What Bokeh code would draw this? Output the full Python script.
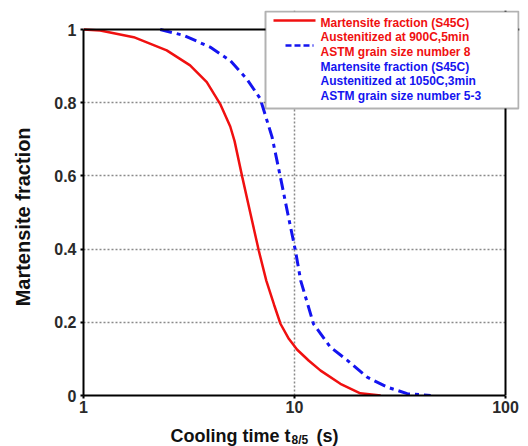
from bokeh.plotting import figure
from bokeh.models import (FixedTicker, NumeralTickFormatter, BoxAnnotation, Label, Arrow, Span)
from bokeh.embed import file_html
from bokeh.resources import INLINE

# --- data ---
red_t = [1.0, 1.2, 1.73, 2.48, 3.2, 3.84, 4.44, 4.96, 5.2, 5.65, 6.19, 6.77, 7.35, 8.0, 8.58, 9.4, 10.3, 11.7, 13.3, 16.5, 20.5, 25.6]
red_f = [1.0, 0.997, 0.979, 0.943, 0.902, 0.856, 0.797, 0.735, 0.695, 0.598, 0.496, 0.396, 0.314, 0.248, 0.196, 0.155, 0.125, 0.095, 0.068, 0.032, 0.006, 0.0]

blue_t = [2.31, 2.98, 3.98, 4.96, 5.94, 6.88, 7.83, 8.58, 9.3, 10.1, 10.7, 12.3, 14.8, 17.8, 22.1, 27.5, 34.2, 44.2]
blue_f = [1.0, 0.984, 0.952, 0.915, 0.865, 0.811, 0.706, 0.596, 0.496, 0.396, 0.314, 0.196, 0.132, 0.096, 0.05, 0.023, 0.005, 0.0]

x_ticks = [1, 10, 100]
y_ticks = [0, 0.2, 0.4, 0.6, 0.8, 1.0]
x_grid = [10]
y_grid = [0.2, 0.4, 0.6, 0.8]

red_label = ["Martensite fraction (S45C)", "Austenitized at 900C,5min", "ASTM grain size number 8"]
blue_label = ["Martensite fraction (S45C)", "Austenitized at 1050C,3min", "ASTM grain size number 5-3"]
x_title = ["Cooling time t", "8/5", "(s)"]
y_title = "Martensite fraction"

FONT = "Liberation Sans"
RED = "#f01010"
BLUE = "#1414f0"
INK = "#111111"

# geometry in pixels: plot box and the (larger) drawing frame
BL, BR, BT, BB = 83, 505, 29, 395      # box of the axes
FR_R, FR_T = 519, 10                   # frame extends to the right / top for the legend
W, H = 528, 446
DEC = (BR - BL) / 2.0


def px_x(px):
    return 10 ** ((px - BL) / DEC)


def px_y(py):
    return (BB - py) / (BB - BT)


p = figure(width=W, height=H, x_axis_type="log",
           x_range=(1, px_x(FR_R)), y_range=(0, px_y(FR_T)),
           output_backend="svg", toolbar_location=None,
           min_border_left=BL, min_border_right=W - FR_R, min_border_top=FR_T, min_border_bottom=H - BB,
           frame_width=FR_R - BL, frame_height=BB - FR_T)
p.background_fill_color = "white"
p.border_fill_color = "white"
p.outline_line_color = None

p.xaxis.ticker = FixedTicker(ticks=x_ticks)
p.yaxis.ticker = FixedTicker(ticks=y_ticks)
p.xaxis.formatter = NumeralTickFormatter(format="0")
p.yaxis.formatter = NumeralTickFormatter(format="0.[0]")
p.xaxis.bounds = (1, 100)
p.yaxis.bounds = (0, 1)
for ax in (p.xaxis, p.yaxis):
    ax.axis_line_color = "black"
    ax.axis_line_width = 2
    ax.major_tick_in = 0
    ax.major_tick_out = 3
    ax.major_tick_line_color = "black"
    ax.major_tick_line_width = 2
    ax.minor_tick_line_color = None
    ax.major_label_text_font = FONT
    ax.major_label_text_font_style = "bold"
    ax.major_label_text_font_size = "16px"
    ax.major_label_text_color = "#2a2a2a"
p.xaxis.major_label_standoff = 2
p.yaxis.major_label_standoff = 4

# trailing no-break spaces move the rotated title down to the centre of the axes box
p.yaxis.axis_label = y_title + "\u00a0" * 5
p.yaxis.axis_label_text_font = FONT
p.yaxis.axis_label_text_font_style = "bold"
p.yaxis.axis_label_text_font_size = "20px"
p.yaxis.axis_label_text_color = INK
p.yaxis.axis_label_standoff = 17

p.xgrid.ticker = FixedTicker(ticks=x_grid)
p.ygrid.ticker = FixedTicker(ticks=y_grid)
for g in (p.xgrid, p.ygrid):
    g.grid_line_color = "#8a8a8a"
    g.grid_line_dash = "2 2"
    g.grid_line_width = 1.5

p.line(red_t, red_f, line_color=RED, line_width=2.5)
p.line(blue_t, blue_f, line_color=BLUE, line_width=3, line_dash="12 5 4 5")

# hide grid beyond the right edge of the box, then the box's top and right edges
p.add_layout(BoxAnnotation(left=100, fill_color="white", fill_alpha=1, line_color=None))
p.add_layout(Span(location=100, dimension="height", line_color="black", line_width=2))
p.add_layout(Span(location=1, dimension="width", line_color="black", line_width=2))

# legend box
p.add_layout(BoxAnnotation(left=px_x(265), right=px_x(518), top=px_y(11), bottom=px_y(108),
                           fill_color="white", fill_alpha=1, line_color="black", line_width=2))
p.add_layout(Arrow(end=None, x_start=px_x(273), x_end=px_x(315), y_start=px_y(20), y_end=px_y(20),
                   line_color=RED, line_width=2.5))
p.add_layout(Arrow(end=None, x_start=px_x(285), x_end=px_x(313), y_start=px_y(45), y_end=px_y(45),
                   line_color=BLUE, line_width=2.5, line_dash="6 3"))

for i, t in enumerate(red_label):
    p.add_layout(Label(x=px_x(320), y=px_y(22 + 14.5 * i), text=t, text_color=RED,
                       text_font=FONT, text_font_style="bold", text_font_size="12px",
                       text_baseline="middle"))
for i, t in enumerate(blue_label):
    p.add_layout(Label(x=px_x(320), y=px_y(66 + 14.5 * i), text=t, text_color=BLUE,
                       text_font=FONT, text_font_style="bold", text_font_size="12px",
                       text_baseline="middle"))

# x axis title with subscript, placed in the panel below the axis
p.add_layout(Label(x=px_x(170), y=px_y(435), text=x_title[0], text_color=INK,
                   text_font=FONT, text_font_style="bold", text_font_size="18px",
                   text_baseline="alphabetic"), "below")
p.add_layout(Label(x=px_x(291), y=px_y(439), text=x_title[1], text_color=INK,
                   text_font=FONT, text_font_style="bold", text_font_size="12px",
                   text_baseline="alphabetic"), "below")
p.add_layout(Label(x=px_x(316), y=px_y(435), text=x_title[2], text_color=INK,
                   text_font=FONT, text_font_style="bold", text_font_size="18px",
                   text_baseline="alphabetic"), "below")

open("out.html", "w").write(file_html(p, INLINE))
